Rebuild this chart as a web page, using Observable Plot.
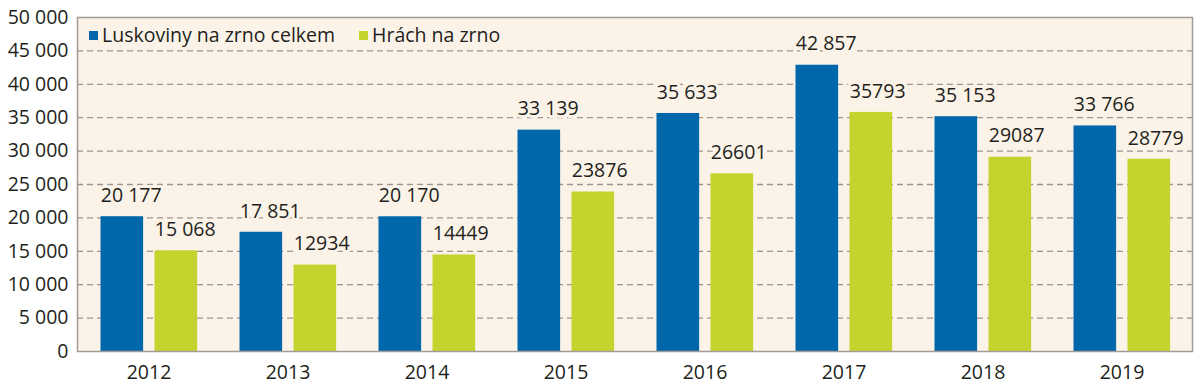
<!DOCTYPE html>
<html>
<head>
<meta charset="utf-8">
<script src="https://cdn.jsdelivr.net/npm/d3@7"></script>
<script src="https://cdn.jsdelivr.net/npm/@observablehq/plot@0.6"></script>
<style>
  html, body { margin: 0; padding: 0; background: #ffffff; }
  #wrap { position: relative; width: 1200px; height: 390px; font-family: "Open Sans", sans-serif; }
  .legend { position: absolute; top: 21px; left: 89px; display: flex; align-items: center; font-size: 19.5px; color: #231f20; white-space: nowrap; }
  .legend .sw { display: inline-block; width: 9px; height: 9px; margin-right: 4px; margin-top: 2px; }
  .legend .item { display: flex; align-items: center; margin-right: 24px; }
</style>
</head>
<body>
<div id="wrap"></div>
<script>
const years = ["2012", "2013", "2014", "2015", "2016", "2017", "2018", "2019"];
const luskoviny = [20177, 17851, 20170, 33139, 35633, 42857, 35153, 33766];
const hrach = [15068, 12934, 14449, 23876, 26601, 35793, 29087, 28779];
const luskovinyLabels = ["20 177", "17 851", "20 170", "33 139", "35 633", "42 857", "35 153", "33 766"];
const hrachLabels = ["15 068", "12934", "14449", "23876", "26601", "35793", "29087", "28779"];
const seriesNames = ["Luskoviny na zrno celkem", "Hrách na zrno"];
const yTicks = [0, 5000, 10000, 15000, 20000, 25000, 30000, 35000, 40000, 45000, 50000];
const gridTicks = [5000, 10000, 15000, 20000, 25000, 30000, 35000, 40000, 45000];

const colors = ["#0067ab", "#c6d22d"];
const bg = "#fcf3e8";
const W = 1200, H = 390, mL = 77, mR = 8, mT = 17, mB = 39;
const bw = (W - mL - mR) / years.length;
const barW = 43;
const offA = 21.5, offB = 75.5;
const FS = 19.5;

const locale = d3.formatLocale({thousands: " ", grouping: [3], decimal: ","});
const fmt = locale.format(",");

const dataA = years.map((y, i) => ({year: y, value: luskoviny[i], label: luskovinyLabels[i]}));
const dataB = years.map((y, i) => ({year: y, value: hrach[i], label: hrachLabels[i]}));

const chart = Plot.plot({
  width: W,
  height: H,
  marginLeft: mL,
  marginRight: mR,
  marginTop: mT,
  marginBottom: mB,
  style: {fontFamily: "Open Sans, sans-serif", fontSize: FS + "px", color: "#231f20", background: "#ffffff", overflow: "visible"},
  x: {type: "band", domain: years, padding: 0, label: null},
  y: {domain: [0, 50000], label: null},
  marks: [
    Plot.frame({fill: bg, stroke: null}),
    Plot.ruleY(gridTicks, {stroke: "#9b9690", strokeWidth: 1.3, strokeDasharray: "6,4"}),
    Plot.barY(dataA, {x: "year", y: "value", fill: colors[0], insetLeft: offA, insetRight: bw - offA - barW}),
    Plot.barY(dataB, {x: "year", y: "value", fill: colors[1], insetLeft: offB, insetRight: bw - offB - barW}),
    Plot.text(dataA, {x: "year", y: "value", text: "label", textAnchor: "start", dx: offA - bw / 2, dy: -21, fill: "#231f20", stroke: bg, strokeWidth: 6, fontSize: FS}),
    Plot.text(dataB, {x: "year", y: "value", text: "label", textAnchor: "start", dx: offB - bw / 2, dy: -21, fill: "#231f20", stroke: bg, strokeWidth: 6, fontSize: FS}),
    Plot.axisX({tickSize: 0, tickPadding: 14, fontSize: FS, label: null}),
    Plot.axisY({ticks: yTicks, tickFormat: fmt, tickSize: 0, tickPadding: 9, fontSize: FS, label: null}),
    Plot.frame({stroke: "#a09c98", strokeWidth: 1.5})
  ]
});

const wrap = document.getElementById("wrap");
wrap.appendChild(chart);
const legend = document.createElement("div");
legend.className = "legend";
seriesNames.forEach((name, i) => {
  const item = document.createElement("span");
  item.className = "item";
  const sw = document.createElement("span");
  sw.className = "sw";
  sw.style.background = colors[i];
  item.appendChild(sw);
  item.appendChild(document.createTextNode(name));
  legend.appendChild(item);
});
wrap.appendChild(legend);
</script>
</body>
</html>
